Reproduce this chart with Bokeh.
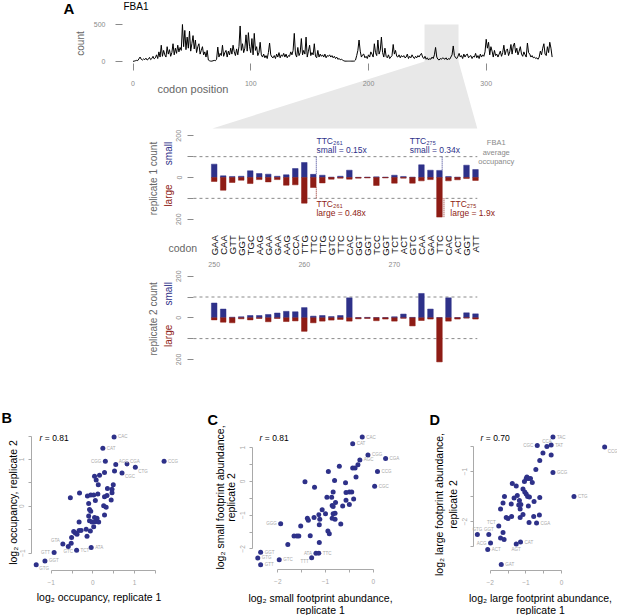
import math
from bokeh.plotting import figure
from bokeh.models import Range1d, LinearAxis, FixedTicker
from bokeh.core.properties import value
from bokeh.embed import file_html
from bokeh.resources import INLINE

# ---------------- data ----------------
# FBA1 ribosome footprint count per codon position (0..356)
TRACE = [
    2, 5, 10, 15, 12, 35, 60, 30, 20, 35,
    25, 45, 20, 30, 55, 25, 40, 70, 35, 50,
    90, 40, 130, 60, 220, 70, 150, 90, 60, 200,
    100, 160, 70, 120, 240, 90, 180, 110, 220, 130,
    190, 150, 500, 200, 420, 160, 330, 180, 410, 140,
    240, 350, 170, 290, 120, 200, 240, 100, 150, 200,
    90, 130, 60, 150, 20, 10, 5, 5, 10, 15,
    10, 30, 195, 60, 110, 80, 220, 70, 120, 150,
    60, 140, 90, 180, 100, 220, 130, 80, 170, 90,
    200, 480, 150, 240, 120, 180, 360, 140, 390, 200,
    120, 310, 90, 380, 150, 200, 80, 120, 260, 90,
    60, 100, 50, 80, 40, 120, 250, 90, 60, 50,
    80, 40, 100, 60, 120, 50, 90, 70, 110, 60,
    100, 50, 80, 70, 130, 90, 150, 380, 100, 60,
    190, 80, 120, 310, 90, 150, 100, 330, 60, 140,
    220, 80, 120, 90, 240, 70, 50, 150, 60, 100,
    70, 90, 60, 100, 50, 80, 70, 90, 60, 80,
    50, 70, 40, 60, 30, 40, 25, 30, 20, 10,
    5, 5, 5, 5, 5, 5, 5, 5, 5, 20,
    80, 150, 290, 140, 60, 90, 100, 50, 70, 40,
    90, 60, 130, 100, 60, 240, 120, 80, 290, 100,
    150, 330, 120, 60, 180, 70, 50, 90, 40, 60,
    80, 230, 100, 150, 70, 60, 90, 50, 80, 60,
    80, 50, 60, 100, 40, 70, 50, 90, 60, 40,
    70, 50, 80, 60, 90, 110, 60, 40, 70, 30,
    50, 20, 40, 30, 60, 40, 90, 190, 60, 30,
    20, 40, 30, 50, 40, 30, 50, 20, 40, 30,
    60, 90, 210, 80, 50, 40, 70, 110, 60, 80,
    40, 100, 60, 90, 100, 50, 70, 80, 40, 70,
    60, 110, 50, 80, 40, 100, 60, 90, 70, 130,
    300, 180, 260, 90, 200, 140, 60, 150, 80, 100,
    60, 100, 140, 70, 120, 220, 90, 150, 170, 80,
    130, 230, 100, 210, 250, 120, 180, 90, 140, 200,
    100, 70, 130, 90, 60, 250, 120, 100, 60, 80,
    50, 60, 40, 50, 30, 60, 140, 90, 180, 240,
    100, 80, 200, 120, 260, 180, 60,
]
TRACE_TICKS = [0, 100, 200, 300]
COUNT_TICKS = [0, 500]

# zoomed window: codons 250..279
WIN_START = 250
CODONS = ["GAA", "CAA", "GTT", "GGT", "TGC", "AAG", "GAA", "GAA", "AAG", "CCA",
          "TTG", "TTC", "TTG", "GTC", "TTC", "CAC", "GGT", "GGT", "TCC", "GGT",
          "TCT", "ACT", "GTC", "CAA", "GAA", "TTC", "CAC", "ACT", "GGT", "ATT"]
WIN_TICKS = [250, 260, 270]
R1_SMALL = [64, 8, 5, 6, 32, 19, 16, 6, 13, 43, 72, 15, 11, 2, 6, 35, 1, 2, 3, 2,
            11, 5, 2, 61, 35, 34, 5, 2, 59, 38]
R1_LARGE = [19, 61, 24, 13, 29, 10, 21, 10, 37, 35, 123, 48, 26, 8, 3, 8, 3, 2, 38, 2,
            27, 3, 27, 16, 10, 190, 16, 11, 5, 14]
R2_SMALL = [71, 42, 3, 5, 11, 11, 16, 23, 31, 29, 49, 8, 11, 6, 11, 96, 1, 2, 1, 1,
            5, 18, 2, 117, 42, 1, 96, 1, 24, 19]
R2_LARGE = [10, 21, 24, 5, 10, 3, 19, 3, 18, 15, 65, 24, 16, 11, 8, 16, 5, 3, 14, 6,
            16, 2, 39, 13, 6, 212, 16, 6, 1, 6]
AVG = 100
REP_TICKS = [-200, -100, 0, 100, 200]
REP_LABELS = ["200", "", "0", "", "200"]
HIGHLIGHT = [(261, "small = 0.15x", "large = 0.48x"), (275, "small = 0.34x", "large = 1.9x")]

# panel B: log2 occupancy (rep1, rep2)
B_X = [0.51, 0.24, 0.30, 0.55, 0.82, 1.02, 1.71, 0.70, -0.72, -0.93, -0.59, -0.39, -0.04, -1.15, -1.36,
       0.52, 0.28, 0.04, 0.08, 0.16, 0.13, 0.49, 0.46, 0.35, 0.46, -0.54, -0.32, -0.13, -0.05, 0.02,
       0.12, 0.28, 0.34, 0.44, 0.06, -0.10, 0.26, 0.32, -0.08, -0.05, -0.10, 0.04, 0.10, 0.28, -0.08,
       -0.02, 0.06, 0.14, 0.02, -0.06, -0.33, -0.16, -0.28, -0.33, -0.46, -0.42, -0.38, -0.14, -0.51, -0.52]
B_Y = [1.48, 1.24, 0.96, 0.89, 0.90, 0.83, 0.96, 0.71, -0.81, -0.99, -0.86, -0.94, -0.88, -1.17, -1.25,
       0.75, 0.72, 0.64, 0.56, 0.66, 0.46, 0.46, 0.36, 0.38, 0.29, 0.18, 0.28, 0.22, 0.24, 0.24,
       0.26, 0.20, 0.23, 0.13, 0.12, 0.06, 0.01, -0.02, -0.07, -0.11, -0.21, -0.24, -0.26, -0.19, -0.31,
       -0.34, -0.33, -0.34, -0.44, -0.53, -0.34, -0.49, -0.52, -0.52, -0.54, -0.57, -0.60, -0.64, -0.67, -0.79]
B_LAB = ["CAC", "CAT", "CGG", "AGC", "CGA", "CTG", "CCG", "CGC", "GTA", "GTT", "GTC", "TCT", "ATA", "GGT", "GTG"]
B_R = "0.81"

# panel C: log2 small footprint abundance
C_X = [-0.23, -0.43, -0.11, 0.26, -0.28, 0.09, 0.03, -1.94, -2.36, -2.42, -2.36, -1.97, -1.20, -1.14, -1.29,
       -0.32, -0.43, -0.38, -0.71, -0.94, -0.36, -0.81, -1.43, -1.23, -0.58, -0.84, -0.57, -0.50, -0.45, -0.97,
       -0.87, -0.79, -0.41, -0.57, -0.50, -0.86, -0.84, -0.64, -1.07, -1.00, -0.84, -0.80, -1.14, -1.38, -1.36,
       -1.24, -1.12, -1.13, -0.86, -0.80, -0.68, -1.52, -0.95, -0.92, -1.32, -1.66, -1.60, -1.56, -1.13, -1.79]
C_Y = [1.32, 1.12, 0.79, 0.68, 0.64, 0.30, -0.14, -1.25, -2.10, -2.27, -2.47, -2.32, -2.13, -2.13, -2.26,
       0.50, 0.40, 0.40, 0.45, 0.30, 0.13, 0.03, -0.01, -0.17, -0.04, -0.31, -0.33, -0.31, -0.31, -0.47,
       -0.47, -0.62, -0.52, -0.56, -0.68, -0.71, -0.74, -0.73, -0.84, -0.96, -0.96, -0.94, -0.99, -1.09, -1.15,
       -1.07, -1.12, -1.28, -1.09, -1.12, -1.26, -1.32, -1.47, -1.55, -1.61, -1.62, -1.62, -1.62, -1.81, -1.87]
C_LAB = ["CAC", "CAT", "CGG", "CGA", "AGC", "CCG", "CGC", "GGG", "GGT", "GTG", "GTT", "GTC", "ATA", "TTC", "TTT"]
C_R = "0.81"

# panel D: log2 large footprint abundance
D_X = [-0.24, -0.68, -0.41, -0.29, 1.21, -0.24, 0.35, -0.70, -1.76, -2.36, -2.04, -1.99, -2.07, -1.27, -1.15, -1.69,
       -0.29, -0.52, -0.61, -0.72, -0.97, -0.99, -0.93, -0.87, -1.04, -1.38, -1.27, -0.82, -1.08, -1.03, -1.60,
       -1.33, -1.24, -0.99, -0.95, -0.90, -0.61, -0.77, -1.64, -1.41, -1.18, -1.14, -1.20, -0.93, -1.71, -1.16,
       -1.55, -1.50, -1.40, -1.16, -1.08, -0.78, -0.62, -0.91, -1.64, -1.71, -1.61]
D_Y = [-0.31, -0.48, -0.50, -0.47, -0.51, -1.02, -1.50, -2.03, -2.09, -2.26, -2.26, -2.43, -2.56, -2.45, -2.41, -2.86,
       -0.67, -0.63, -0.78, -0.96, -1.11, -1.14, -1.14, -1.14, -1.20, -1.24, -1.29, -1.22, -1.35, -1.41, -1.50,
       -1.53, -1.48, -1.45, -1.50, -1.51, -1.52, -1.60, -1.63, -1.65, -1.58, -1.66, -1.67, -1.69, -1.75, -1.75,
       -1.92, -1.94, -1.90, -1.92, -1.86, -1.90, -1.87, -2.02, -2.22, -2.33, -2.36]
D_LAB = ["TAC", "CGC", "CCA", "TAT", "CCG", "GCG", "CTG", "CGA", "TCT", "GTG", "GGT", "ACG", "ACT", "AGT", "CAT", "GAT"]
D_R = "0.70"

# ---------------- style ----------------
W, H = 617, 615
FONT = "Liberation Sans"
BLUE = "#2e3189"
RED = "#8e1c15"
GREY = "#8a8a8a"
LGREY = "#a9a9a9"
TGREY = "#666666"
GBOX = "#e8e8e8"
MINUS = "\u2212"

p = figure(width=W, height=H, x_range=Range1d(0, W), y_range=Range1d(H, 0),
           x_axis_type=None, y_axis_type=None, toolbar_location=None,
           output_backend="svg", min_border=0, title=None)
p.outline_line_color = None


def xmap(name, v0, r0, v1, r1):
    k = (r1 - r0) / (v1 - v0)
    p.extra_x_ranges[name] = Range1d(v0 - r0 / k, v0 + (W - r0) / k)
    return (lambda v: r0 + (v - v0) * k), (lambda r: v0 + (r - r0) / k)


def ymap(name, v0, r0, v1, r1):
    k = (r1 - r0) / (v1 - v0)
    p.extra_y_ranges[name] = Range1d(v0 + (H - r0) / k, v0 - r0 / k)
    return (lambda v: r0 + (v - v0) * k), (lambda r: v0 + (r - r0) / k)


def T(x, y, s, size, color="#000000", align="left", baseline="middle", angle=0.0,
      style="normal", xr="default", yr="default"):
    p.text(x=[x], y=[y], text=[s], text_font=value(FONT), text_font_size=f"{size}px",
           text_color=color, text_align=align, text_baseline=baseline, angle=angle,
           text_font_style=style, x_range_name=xr, y_range_name=yr)


def key(t):
    return int(t) if float(t).is_integer() else float(t)


def axis(side, xr, yr, loc, bounds, ticks, labels, tick_out, size, color,
         standoff, orient="horizontal", line_color=None, label_color=None):
    ax = LinearAxis(x_range_name=xr, y_range_name=yr, fixed_location=loc,
                    bounds=bounds, ticker=FixedTicker(ticks=[key(t) for t in ticks], minor_ticks=[]),
                    major_label_overrides={key(t): l for t, l in zip(ticks, labels)},
                    major_tick_out=tick_out, major_tick_in=0,
                    major_tick_line_color=color if tick_out else None,
                    minor_tick_line_color=None, axis_line_color=line_color,
                    major_label_text_font=FONT, major_label_text_font_size=f"{size}px",
                    major_label_text_color=label_color or color,
                    major_label_standoff=standoff, major_label_orientation=orient)
    p.add_layout(ax, side)


# ---------------- panel A: trace ----------------
fax, iax = xmap("ax", 0, 132.5, 300, 485.7)
fay, iay = ymap("ay", 0, 61.0, 500, 24.0)
fmx, imx = xmap("mx", 250, 213.7, 279, 475.0)
fm1, im1 = ymap("m1", 0, 177.0, 200, 135.3)
fm2, im2 = ymap("m2", 0, 317.3, 200, 275.7)

pos = [WIN_START + i for i in range(len(CODONS))]
win0, win1 = WIN_START - 2.4, pos[-1] - 2.5   # highlighted region on the trace
p.patch(x=[fax(win0), fax(win1), fax(win1), fmx(pos[-1] + 0.2), fmx(pos[0] - 0.2), fax(win0)],
        y=[fay(500), fay(500), fay(0), fm1(235), fm1(235), fay(0)],
        fill_color=GBOX, line_color=None)

p.line(x=list(range(len(TRACE))), y=TRACE, x_range_name="ax", y_range_name="ay",
       line_color="black", line_width=1)

axis("left", "ax", "ay", iax(122), (0, 500), COUNT_TICKS, [str(t) for t in COUNT_TICKS],
     7, 7, GREY, 10)
axis("below", "ax", "ay", iay(63.3), (0, 300), TRACE_TICKS, [str(t) for t in TRACE_TICKS],
     7, 7, GREY, 10)
T(63, 7.5, "A", 15, style="bold")
T(123, 5.5, "FBA1", 10)
T(80, 43, "count", 10, color=TGREY, align="center", angle=math.pi / 2)
T(157, 88, "codon position", 11, color=TGREY)

# ---------------- replicate panels ----------------
for yr, f, small, large, rep in (("m1", fm1, R1_SMALL, R1_LARGE, "1"), ("m2", fm2, R2_SMALL, R2_LARGE, "2")):
    p.segment(x0=[pos[0] - 2.3] * 2, x1=[pos[-1] + 0.2] * 2, y0=[AVG, -AVG], y1=[AVG, -AVG],
              x_range_name="mx", y_range_name=yr, line_color=GREY, line_dash="3 3", line_width=1)
    p.vbar(x=pos, top=small, bottom=0, width=0.62, fill_color=BLUE, line_color=BLUE,
           line_width=0.5, x_range_name="mx", y_range_name=yr)
    p.vbar(x=pos, top=0, bottom=[-v for v in large], width=0.62, fill_color=RED, line_color=RED,
           line_width=0.5, x_range_name="mx", y_range_name=yr)
    axis("left", "mx", yr, imx(193), (-200, 200), REP_TICKS, REP_LABELS, 6, 7, GREY, 6,
         orient="parallel")
    c0 = f(0)
    T(153, c0 + 1, f"replicate {rep} count", 10, color=TGREY, align="center", angle=math.pi / 2)
    T(168, c0 - 24, "small", 10, color=BLUE, align="center", angle=math.pi / 2)
    T(168, c0 + 18, "large", 10, color=RED, align="center", angle=math.pi / 2)

axis("below", "mx", "m1", -200, (pos[0], pos[-1]), pos, CODONS, 0, 9.5, "#000000", 16,
     orient=math.pi / 2, label_color="#111111")
axis("below", "mx", "m1", -200, (pos[0], pos[-1]), WIN_TICKS, [str(t) for t in WIN_TICKS],
     0, 7, GREY, 43)
T(168, 247, "codon", 10.5, color=TGREY)

# highlight annotations (replicate 1)
sub = str.maketrans("0123456789", "\u2080\u2081\u2082\u2083\u2084\u2085\u2086\u2087\u2088\u2089")
for (cpos, stxt, ltxt), (bx_off, rx_off, blx, rlx) in zip(HIGHLIGHT, [(0.33, 0.33, 0.35, 0.35), (0.3, 0.5, -3.3, 1.2)]):
    i = cpos - WIN_START
    p.segment(x0=[cpos + bx_off], x1=[cpos + bx_off], y0=[AVG], y1=[R1_SMALL[i]],
              x_range_name="mx", y_range_name="m1", line_color=BLUE, line_dash="1 1", line_width=1)
    p.segment(x0=[cpos + rx_off], x1=[cpos + rx_off], y0=[-AVG], y1=[-R1_LARGE[i]],
              x_range_name="mx", y_range_name="m1", line_color=RED, line_dash="1 1", line_width=1)
    lab = "TTC" + str(cpos).translate(sub)
    T(cpos + blx, 173, lab, 8.5, color=BLUE, xr="mx", yr="m1")
    T(cpos + blx, 131, stxt, 8.5, color=BLUE, xr="mx", yr="m1")
    T(cpos + rlx, -125, lab, 8.5, color=RED, xr="mx", yr="m1")
    T(cpos + rlx, -168, ltxt, 8.5, color=RED, xr="mx", yr="m1")

for s, yv in (("FBA1", 168), ("average", 122), ("occupancy", 78)):
    T(pos[-1] + 2.3, yv, s, 7.5, color=GREY, align="center", xr="mx", yr="m1")

# ---------------- scatter panels ----------------
OFFS = {"r": (4, 0, "left"), "l": (-4, 0, "right"), "a": (0, -5, "center"), "b": (0, 5.5, "center"),
        "ra": (3, -3, "left"), "rb": (3, 4, "left"), "la": (-3, -3.5, "right"), "lb": (-3, 4, "right")}
B_POS = ["r", "r", "l", "ra", "ra", "rb", "r", "rb", "la", "l", "b", "r", "r", "r", "rb"]
C_POS = ["r", "r", "r", "r", "r", "r", "r", "l", "r", "r", "r", "r", "l", "r", "lb"]
D_POS = ["r", "l", "a", "r", "rb", "r", "r", "r", "la", "a", "a", "l", "r", "b", "r", "r"]

fbx, ibx = xmap("bx", -1, 50.7, 1, 134.0)
fby, iby = ymap("by", 0, 505.7, 1, 458.9)
fcx, icx = xmap("cx", -2, 277.3, 0, 372.7)
fcy, icy = ymap("cy", 0, 481.0, 1, 447.3)
fdx, idx = xmap("dx", -2, 489.7, 0, 561.0)
fdy, idy = ymap("dy", -1, 471.0, -2, 521.0)

PANELS = [
    ("bx", "by", fbx, fby, B_X, B_Y, B_LAB, B_POS, B_R,
     (ibx(31), [-1, -0.5, 0, 0.5, 1, 1.5], [MINUS + "1", "", "0", "", "1", ""]),
     (iby(570), [-1, -0.5, 0, 0.5, 1, 1.5], [MINUS + "1", "", "0", "", "1", ""])),
    ("cx", "cy", fcx, fcy, C_X, C_Y, C_LAB, C_POS, C_R,
     (icx(251.7), [-2, -1.5, -1, -0.5, 0, 0.5, 1], [MINUS + "2", "", MINUS + "1", "", "0", "", "1"]),
     (icy(569.3), [-2, -1.5, -1, -0.5, 0], [MINUS + "2", "", MINUS + "1", "", "0"])),
    ("dx", "dy", fdx, fdy, D_X, D_Y, D_LAB, D_POS, D_R,
     (idx(473.3), [-2.5, -2, -1.5, -1, -0.5], ["", MINUS + "2", "", MINUS + "1", ""]),
     (idy(570), [-2, -1.5, -1, -0.5, 0], [MINUS + "2", "", MINUS + "1", "", "0"])),
]
for xr, yr, fx, fy, X, Y, LAB, POS, rv, yax, xax in PANELS:
    axis("left", xr, yr, yax[0], (yax[1][0], yax[1][-1]), yax[1], yax[2], 3, 6.5, LGREY, 4,
         orient="parallel", line_color=LGREY)
    axis("below", xr, yr, xax[0], (xax[1][0], xax[1][-1]), xax[1], xax[2], 3, 6.5, LGREY, 6,
         line_color=LGREY)
    p.scatter(x=X, y=Y, size=5, fill_color=BLUE, line_color=None, x_range_name=xr, y_range_name=yr)
    for name, x, y, code in zip(LAB, X, Y, POS):
        dx, dy, al = OFFS[code]
        T(fx(x) + dx, fy(y) + dy, name, 4.5, color=LGREY, align=al)

# panel letters, r values, axis titles
T(1, 417.5, "B", 14.5, style="bold")
T(207, 419.5, "C", 14.5, style="bold")
T(429, 419, "D", 14.5, style="bold")
for xr_, rv in ((39, B_R), (259, C_R), (480, D_R)):
    T(xr_, 437, "r", 8.5, style="italic")
    T(xr_ + 5.3, 437, "= " + rv, 8.5)

T(98.6, 596, "log\u2082 occupancy, replicate 1", 10.5, align="center")
T(12, 502, "log\u2082 occupancy, replicate 2", 10.5, align="center", angle=math.pi / 2)
T(320, 597, "log\u2082 small footprint abundance,", 10.5, align="center")
T(320, 609, "replicate 1", 10.5, align="center")
T(219, 497, "log\u2082 small footprint abundance,", 10.5, align="center", angle=math.pi / 2)
T(230, 497, "replicate 2", 10.5, align="center", angle=math.pi / 2)
T(540, 597, "log\u2082 large footprint abundance,", 10.5, align="center")
T(540, 609, "replicate 1", 10.5, align="center")
T(438, 504, "log\u2082 large footprint abundance,", 10.5, align="center", angle=math.pi / 2)
T(452, 504, "replicate 2", 10.5, align="center", angle=math.pi / 2)

open("out.html", "w").write(file_html(p, INLINE))
